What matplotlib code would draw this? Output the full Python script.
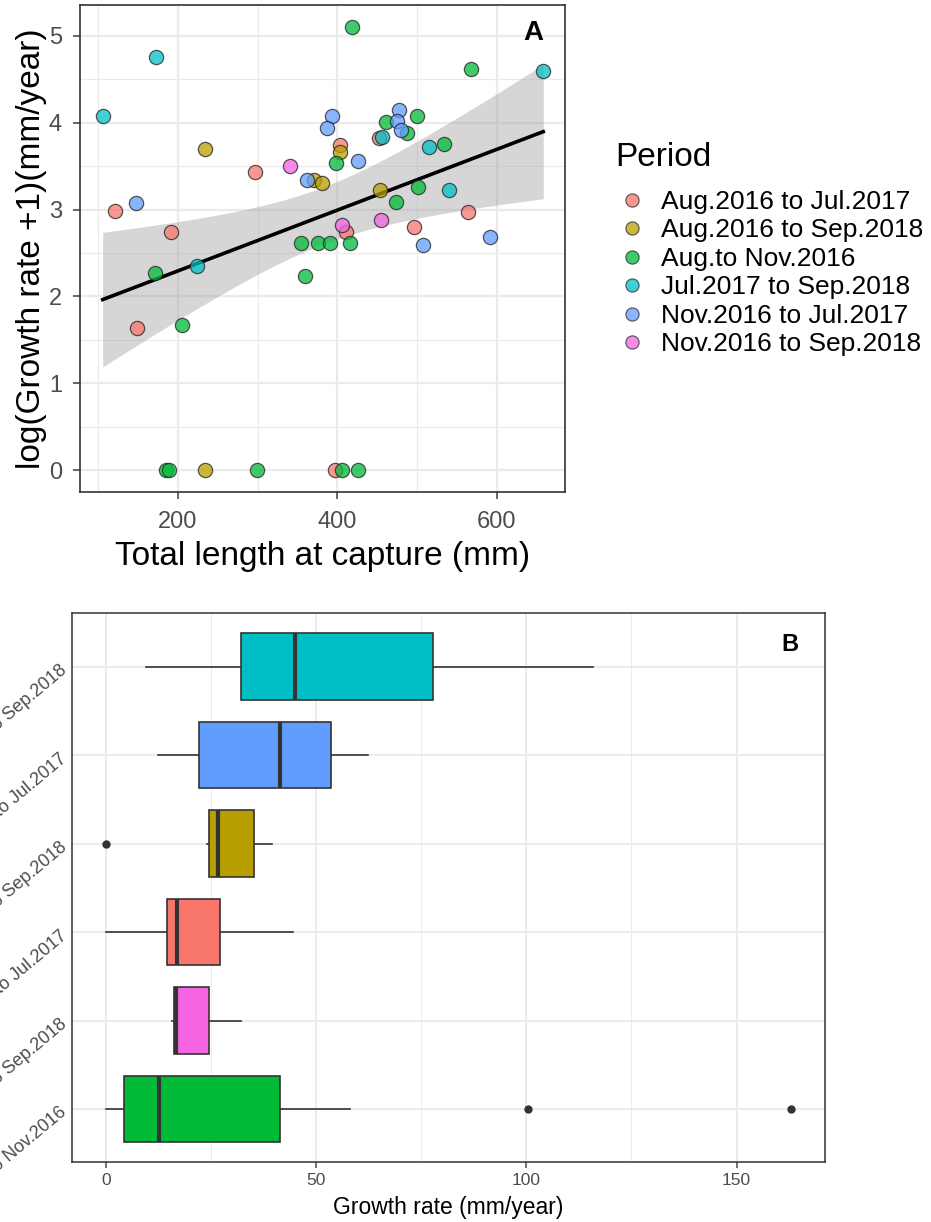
import numpy as np
import matplotlib
matplotlib.use("Agg")
import matplotlib.pyplot as plt
from matplotlib.lines import Line2D

plt.rcParams['font.family'] = ['Liberation Sans', 'DejaVu Sans']

# -----------------------------
# Data
# -----------------------------
periods = ['Aug.2016 to Jul.2017', 'Aug.2016 to Sep.2018', 'Aug.to Nov.2016',
           'Jul.2017 to Sep.2018', 'Nov.2016 to Jul.2017', 'Nov.2016 to Sep.2018']
colors = ['#F8766D', '#B79F00', '#00BA38', '#00BFC4', '#619CFF', '#F564E3']

# total length at capture (mm)
length_aug16_jul17 = [296.8, 121.4, 191.6, 148.3, 452.4, 403, 563.8, 411.4, 496.5, 397.7]
length_aug16_sep18 = [233.7, 371, 381, 403, 453.2, 233.7]
length_aug_nov16 = [418.7, 568, 499.6, 461.7, 486.9, 398.5, 534.4, 501.6, 474.2, 354.8,
                    375.4, 391.4, 415.4, 170.6, 205, 359.9, 185.3, 188.6, 298.8, 406, 426.3]
length_jul17_sep18 = [172.6, 105.4, 658.5, 456.6, 514.6, 540.7, 224]
length_nov16_jul17 = [147.4, 362, 393.5, 387, 477.6, 474.7, 479.8, 426.3, 592, 507.9]
length_nov16_sep18 = [341, 455.4, 406]

# log(growth rate + 1)
logg_aug16_jul17 = [3.43, 2.98, 2.74, 1.64, 3.82, 3.74, 2.97, 2.74, 2.80, 0]
logg_aug16_sep18 = [3.70, 3.34, 3.31, 3.66, 3.22, 0]
logg_aug_nov16 = [5.10, 4.62, 4.08, 4.01, 3.88, 3.54, 3.75, 3.26, 3.09, 2.61,
                  2.61, 2.61, 2.61, 2.27, 1.67, 2.24, 0, 0, 0, 0, 0]
logg_jul17_sep18 = [4.76, 4.08, 4.59, 3.83, 3.72, 3.22, 2.35]
logg_nov16_jul17 = [3.07, 3.34, 4.08, 3.94, 4.15, 4.02, 3.91, 3.56, 2.69, 2.59]
logg_nov16_sep18 = [3.50, 2.88, 2.82]

lengths = [length_aug16_jul17, length_aug16_sep18, length_aug_nov16,
           length_jul17_sep18, length_nov16_jul17, length_nov16_sep18]
loggs = [logg_aug16_jul17, logg_aug16_sep18, logg_aug_nov16,
         logg_jul17_sep18, logg_nov16_jul17, logg_nov16_sep18]

grid_col = '#EBEBEB'
tick_col = '#4D4D4D'

fig = plt.figure(figsize=(9.31, 12.22), dpi=100)

# -----------------------------
# Panel A: scatter + linear fit
# -----------------------------
ax1 = fig.add_axes([0.086, 0.597, 0.521, 0.399])

x_all = np.concatenate([np.array(v, float) for v in lengths])
y_all = np.concatenate([np.array(v, float) for v in loggs])
slope, intercept = np.polyfit(x_all, y_all, 1)
n = len(x_all)
resid = y_all - (slope * x_all + intercept)
s = np.sqrt(np.sum(resid ** 2) / (n - 2))
xs = np.linspace(x_all.min(), x_all.max(), 100)
ys = slope * xs + intercept
se = s * np.sqrt(1 / n + (xs - x_all.mean()) ** 2 / np.sum((x_all - x_all.mean()) ** 2))
t975 = 2.004
ax1.fill_between(xs, ys - t975 * se, ys + t975 * se, color='#999999', alpha=0.4,
                 linewidth=0, zorder=2)
ax1.plot(xs, ys, color='black', lw=2.6, zorder=3)

for xv, yv, c in zip(lengths, loggs, colors):
    ax1.scatter(xv, yv, s=105, color=c, alpha=0.75, edgecolors='#222222',
                linewidths=0.9, zorder=4)

ax1.set_xlim(77, 686)
ax1.set_ylim(-0.255, 5.355)
ax1.set_xticks([200, 400, 600])
ax1.set_xticks([100, 300, 500], minor=True)
ax1.set_yticks([0, 1, 2, 3, 4, 5])
ax1.set_yticks(np.arange(0.5, 5.1, 1), minor=True)
ax1.grid(True, which='major', color=grid_col, lw=1.6, zorder=0)
ax1.grid(True, which='minor', color=grid_col, lw=0.8, zorder=0)
ax1.set_axisbelow(True)
ax1.tick_params(axis='both', which='major', labelsize=17, colors=tick_col,
                length=5, width=1.2, pad=8)
ax1.tick_params(which='minor', length=0)
for sp in ax1.spines.values():
    sp.set_color('#333333')
    sp.set_linewidth(1.2)
ax1.set_xlabel('Total length at capture (mm)', fontsize=24, labelpad=6)
ax1.set_ylabel('log(Growth rate +1)(mm/year)', fontsize=24, labelpad=1)
ax1.text(0.955, 0.97, 'A', transform=ax1.transAxes, fontsize=20,
         fontweight='bold', ha='right', va='top')

# legend: title and keys
fig.text(615 / 931, 1 - 157 / 1222, 'Period', fontsize=24, ha='left', va='center')
handles = [Line2D([0], [0], marker='o', ls='', markersize=9.5, markerfacecolor=c,
                  markeredgecolor='#222222', markeredgewidth=0.8, alpha=0.75)
           for c in colors]
fig.legend(handles, periods, loc='upper left',
           bbox_to_anchor=(0.665, 1 - 190 / 1222), frameon=False, fontsize=19,
           labelspacing=0.17, handletextpad=0.6, borderpad=0, borderaxespad=0,
           handlelength=1.0)

# -----------------------------
# Panel B: boxplots of growth rate
# -----------------------------
ax2 = fig.add_axes([0.077, 0.049, 0.809, 0.449])

growth = [np.exp(np.array(v, float)) - 1 for v in loggs]
order = np.argsort([np.median(g) for g in growth])  # bottom -> top by median
box_data = [growth[i] for i in order]
bp = ax2.boxplot(box_data, vert=False, widths=0.75, patch_artist=True,
                 whis=1.5, showcaps=False,
                 medianprops=dict(color='#333333', lw=3, zorder=5),
                 whiskerprops=dict(color='#333333', lw=1.2),
                 boxprops=dict(edgecolor='#333333', lw=1.2),
                 flierprops=dict(marker='o', markerfacecolor='#333333',
                                 markeredgecolor='#333333', markersize=5))
for patch, i in zip(bp['boxes'], order):
    patch.set_facecolor(colors[i])
    patch.set_zorder(3)

ax2.set_yticks(range(1, 7))
ax2.set_yticklabels([periods[i] for i in order], rotation=40, ha='right',
                    rotation_mode='anchor', fontsize=13, color=tick_col)
ax2.set_xlim(-8.1, 171)
ax2.set_ylim(0.4, 6.6)
ax2.set_xticks([0, 50, 100, 150])
ax2.set_xticks([25, 75, 125], minor=True)
ax2.grid(True, which='major', color=grid_col, lw=1.4, zorder=0)
ax2.grid(True, which='minor', axis='x', color=grid_col, lw=0.7, zorder=0)
ax2.set_axisbelow(True)
ax2.tick_params(axis='x', which='major', labelsize=12.5, colors=tick_col,
                length=4, width=1.1)
ax2.tick_params(axis='y', length=0, pad=6)
ax2.tick_params(which='minor', length=0)
for sp in ax2.spines.values():
    sp.set_color('#333333')
    sp.set_linewidth(1.1)
ax2.set_xlabel('Growth rate (mm/year)', fontsize=16.5, labelpad=6)
ax2.text(0.965, 0.965, 'B', transform=ax2.transAxes, fontsize=17,
         fontweight='bold', ha='right', va='top')

fig.savefig('out.png', dpi=100)
